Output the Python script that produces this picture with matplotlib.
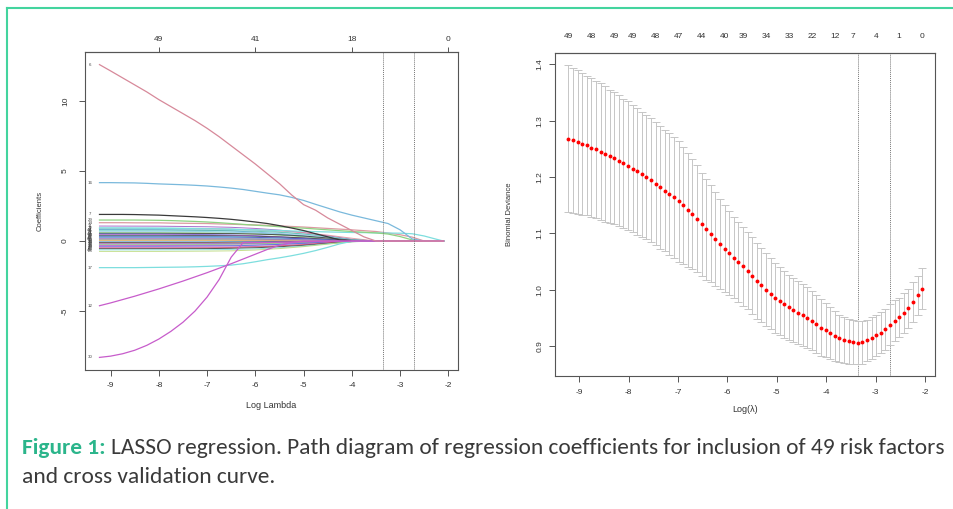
import numpy as np
import matplotlib
matplotlib.use("Agg")
import matplotlib.pyplot as plt
from matplotlib.lines import Line2D
from matplotlib import font_manager as fm

W, H = 954, 509
plt.rcParams['font.family'] = ['Liberation Sans', 'DejaVu Sans']
plt.rcParams['axes.unicode_minus'] = False

# ---------------- data: coefficient paths (left panel) ----------------
path_x_fine = [-9.23, -9.0, -8.75, -8.5, -8.25, -8.0, -7.75, -7.5, -7.25, -7.0,
               -6.75, -6.5, -6.25, -6.0, -5.75, -5.5, -5.25, -5.0, -4.75, -4.5,
               -4.25, -4.0, -3.75, -3.5, -3.25, -3.0, -2.75, -2.5, -2.25, -2.1]

coef_v6 = [12.6, 12.15, 11.65, 11.15, 10.65, 10.1, 9.6, 9.1, 8.6, 8.05,
           7.45, 6.8, 6.15, 5.5, 4.8, 4.1, 3.3, 2.6, 2.2, 1.65,
           1.2, 0.75, 0.3, 0, 0, 0, 0, 0, 0, 0]
coef_v16 = [4.17, 4.17, 4.16, 4.15, 4.12, 4.08, 4.05, 4.02, 3.98, 3.93,
            3.86, 3.78, 3.68, 3.55, 3.42, 3.3, 3.12, 2.9, 2.62, 2.35,
            2.08, 1.85, 1.65, 1.45, 1.25, 0.8, 0.15, 0, 0, 0]
coef_v7 = [1.9, 1.9, 1.9, 1.89, 1.87, 1.85, 1.81, 1.77, 1.73, 1.68,
           1.62, 1.55, 1.46, 1.36, 1.25, 1.1, 0.93, 0.75, 0.52, 0.3,
           0.08, 0, 0, 0, 0, 0, 0, 0, 0, 0]
coef_v29 = [1.5, 1.5, 1.5, 1.5, 1.49, 1.48, 1.46, 1.43, 1.4, 1.36,
            1.31, 1.25, 1.19, 1.13, 1.08, 1.02, 0.97, 0.92, 0.86, 0.8,
            0.74, 0.68, 0.63, 0.58, 0.5, 0.32, 0.08, 0, 0, 0]
coef_v14 = [1.31, 1.31, 1.31, 1.3, 1.3, 1.3, 1.28, 1.27, 1.26, 1.25,
            1.22, 1.2, 1.17, 1.15, 1.12, 1.08, 1.04, 1.0, 0.95, 0.9,
            0.85, 0.8, 0.74, 0.68, 0.57, 0.45, 0.28, 0, 0, 0]
coef_v9 = [0.92, 0.92, 0.92, 0.91, 0.91, 0.9, 0.9, 0.89, 0.88, 0.87,
           0.86, 0.84, 0.82, 0.8, 0.78, 0.75, 0.72, 0.7, 0.67, 0.65,
           0.63, 0.61, 0.6, 0.58, 0.57, 0.56, 0.52, 0.36, 0.13, 0]
coef_v17 = [-1.9, -1.9, -1.9, -1.9, -1.89, -1.88, -1.87, -1.86, -1.84, -1.81,
            -1.77, -1.72, -1.62, -1.48, -1.33, -1.2, -1.05, -0.88, -0.68, -0.45,
            -0.2, -0.02, 0, 0, 0, 0, 0, 0, 0, 0]
coef_v12 = [-4.62, -4.42, -4.18, -3.94, -3.68, -3.42, -3.14, -2.86, -2.56, -2.26,
            -1.94, -1.62, -1.28, -0.94, -0.6, -0.3, -0.1, 0, 0, 0,
            0, 0, 0, 0, 0, 0, 0, 0, 0, 0]
coef_v30 = [-8.31, -8.22, -8.05, -7.8, -7.45, -7.0, -6.45, -5.8, -5.0, -4.0,
            -2.75, -1.15, -0.1, -0.1, -0.1, -0.08, -0.07, -0.05, -0.04, -0.02,
            -0.01, 0, 0, 0, 0, 0, 0, 0, 0, 0]

major_paths = [coef_v14, coef_v9, coef_v29, coef_v7, coef_v17, coef_v16,
               coef_v12, coef_v30, coef_v6]
major_labels = ['14', '9', '29', '7', '17', '16', '12', '30', '6']
major_colors = ['#dc9aa2', '#7ddede', '#8ed282', '#3a3a3a', '#7ddede', '#7ab9dc',
                '#c75ccb', '#c75ccb', '#d7899a']

path_x_coarse = [-9.23, -8.0, -7.0, -6.5, -6.0, -5.5, -5.0, -4.5, -4.0, -3.5, -2.1]
cluster_paths = [
    [1.07, 1.06, 1.02, 0.98, 0.9, 0.78, 0.6, 0.38, 0.12, 0, 0],
    [0.95, 0.94, 0.9, 0.86, 0.78, 0.66, 0.5, 0.3, 0.08, 0, 0],
    [0.88, 0.88, 0.86, 0.84, 0.8, 0.72, 0.6, 0.42, 0.2, 0, 0],
    [0.82, 0.81, 0.77, 0.72, 0.64, 0.52, 0.36, 0.18, 0.02, 0, 0],
    [0.78, 0.78, 0.76, 0.74, 0.7, 0.62, 0.5, 0.32, 0.1, 0, 0],
    [0.72, 0.71, 0.68, 0.64, 0.58, 0.48, 0.34, 0.16, 0.02, 0, 0],
    [0.66, 0.66, 0.65, 0.63, 0.6, 0.54, 0.44, 0.28, 0.08, 0, 0],
    [0.6, 0.6, 0.58, 0.55, 0.5, 0.42, 0.3, 0.16, 0.03, 0, 0],
    [0.55, 0.55, 0.54, 0.53, 0.5, 0.45, 0.36, 0.22, 0.06, 0, 0],
    [0.5, 0.49, 0.46, 0.43, 0.38, 0.3, 0.2, 0.08, 0, 0, 0],
    [0.45, 0.45, 0.43, 0.41, 0.37, 0.3, 0.22, 0.12, 0.03, 0, 0],
    [0.4, 0.4, 0.39, 0.37, 0.34, 0.29, 0.22, 0.12, 0.02, 0, 0],
    [0.35, 0.35, 0.33, 0.31, 0.28, 0.22, 0.15, 0.07, 0, 0, 0],
    [0.3, 0.3, 0.29, 0.28, 0.26, 0.22, 0.16, 0.08, 0.01, 0, 0],
    [0.25, 0.25, 0.24, 0.22, 0.19, 0.15, 0.1, 0.04, 0, 0, 0],
    [0.2, 0.2, 0.19, 0.18, 0.16, 0.13, 0.09, 0.04, 0, 0, 0],
    [0.15, 0.15, 0.14, 0.13, 0.12, 0.1, 0.07, 0.03, 0, 0, 0],
    [0.1, 0.1, 0.1, 0.09, 0.08, 0.06, 0.04, 0.02, 0, 0, 0],
    [0.06, 0.06, 0.06, 0.05, 0.05, 0.04, 0.02, 0.01, 0, 0, 0],
    [0.03, 0.03, 0.03, 0.03, 0.02, 0.02, 0.01, 0, 0, 0, 0],
    [-0.05, -0.05, -0.05, -0.04, -0.04, -0.03, -0.02, -0.01, 0, 0, 0],
    [-0.1, -0.1, -0.1, -0.09, -0.08, -0.06, -0.04, -0.02, 0, 0, 0],
    [-0.16, -0.16, -0.15, -0.14, -0.12, -0.1, -0.07, -0.03, 0, 0, 0],
    [-0.21, -0.21, -0.2, -0.19, -0.17, -0.14, -0.1, -0.05, -0.01, 0, 0],
    [-0.26, -0.26, -0.25, -0.23, -0.2, -0.16, -0.11, -0.05, 0, 0, 0],
    [-0.32, -0.32, -0.31, -0.3, -0.28, -0.24, -0.18, -0.1, -0.02, 0, 0],
    [-0.38, -0.38, -0.36, -0.34, -0.3, -0.24, -0.16, -0.07, 0, 0, 0],
    [-0.44, -0.44, -0.43, -0.42, -0.39, -0.34, -0.26, -0.15, -0.04, 0, 0],
    [-0.5, -0.5, -0.48, -0.46, -0.42, -0.35, -0.25, -0.12, -0.02, 0, 0],
    [-0.55, -0.55, -0.54, -0.52, -0.48, -0.41, -0.31, -0.17, -0.04, 0, 0],
    [-0.63, -0.63, -0.62, -0.6, -0.56, -0.48, -0.36, -0.2, -0.05, 0, 0],
    [-0.74, -0.74, -0.72, -0.7, -0.64, -0.54, -0.4, -0.22, -0.05, 0, 0],
]
cluster_labels = ['31', '5', '2', '4', '43', '21', '37', '3', '1', '44', '22', '33', '27', '38',
                  '40', '8', '46', '19', '10', '15', '36', '25', '18', '39', '11', '13',
                  '20', '23', '26', '34', '45', '28']
cluster_colors = ['#9a55c4', '#7ddede', '#dc8f9c', '#5aa5e0', '#5bbcae', '#7ddede', '#9ccbe8',
                  '#8ed282', '#3a3a3a', '#4a78e0', '#c75ccb', '#444444', '#5cc4c4', '#5548c8',
                  '#5aa5e0', '#a8a8a8', '#9a55c4', '#8ed282', '#c75ccb', '#e6c85a', '#5aa5e0',
                  '#3a3a3a', '#dc8a99', '#7f4dc4', '#8ed282', '#c75ccb', '#4a78e0', '#c75ccb',
                  '#da5f76', '#3a3a3a', '#7ddede', '#bcd97a']

path_top_pos = [-8, -6, -4, -2]
path_top_labels = ['49', '41', '18', '0']

# ---------------- data: cross-validation curve (right panel) ----------------
log_lambda = np.linspace(-9.22, -2.06, 78)
cv_mean = [1.268, 1.265, 1.262, 1.259, 1.256, 1.252, 1.249, 1.245, 1.241, 1.237,
           1.233, 1.229, 1.224, 1.220, 1.215, 1.210, 1.205, 1.200, 1.194, 1.188,
           1.182, 1.176, 1.170, 1.164, 1.157, 1.150, 1.142, 1.134, 1.126, 1.116,
           1.107, 1.099, 1.090, 1.081, 1.073, 1.065, 1.057, 1.050, 1.042, 1.034,
           1.025, 1.016, 1.008, 1.000, 0.993, 0.986, 0.980, 0.974, 0.969, 0.964,
           0.959, 0.955, 0.950, 0.945, 0.939, 0.933, 0.928, 0.923, 0.918, 0.914,
           0.911, 0.909, 0.907, 0.906, 0.907, 0.910, 0.914, 0.919, 0.924, 0.930,
           0.938, 0.945, 0.951, 0.959, 0.967, 0.978, 0.990, 1.002]
cv_se = [0.130, 0.129, 0.127, 0.126, 0.124, 0.123, 0.122, 0.121, 0.120, 0.118,
         0.117, 0.116, 0.115, 0.114, 0.113, 0.112, 0.111, 0.110, 0.110, 0.109,
         0.109, 0.108, 0.108, 0.107, 0.107, 0.104, 0.101, 0.098, 0.095, 0.092,
         0.089, 0.086, 0.083, 0.080, 0.077, 0.074, 0.072, 0.071, 0.070, 0.069,
         0.068, 0.067, 0.066, 0.065, 0.063, 0.062, 0.061, 0.060, 0.058, 0.057,
         0.056, 0.055, 0.054, 0.052, 0.051, 0.050, 0.048, 0.046, 0.044, 0.042,
         0.041, 0.040, 0.039, 0.038, 0.038, 0.037, 0.037, 0.036, 0.036, 0.036,
         0.036, 0.036, 0.035, 0.035, 0.035, 0.035, 0.035, 0.036]
cv_top_idx = [0, 5, 10, 14, 19, 24, 29, 34, 38, 43, 48, 53, 58, 62, 67, 72, 77]
cv_top_labels = ['49', '48', '49', '49', '48', '47', '44', '40', '39', '34', '33',
                 '22', '12', '7', '4', '1', '0']

caption_bold = 'Figure 1:'
caption_line1 = 'LASSO regression. Path diagram of regression coefficients for inclusion of 49 risk factors'
caption_line2 = 'and cross validation curve.'

# ---------------- figure ----------------
fig = plt.figure(figsize=(W / 100, H / 100), dpi=100)
fig.patch.set_facecolor('white')


def fx(px):
    return px / W


def fy(py):
    return 1 - py / H


SPINE = '#555555'
TICKLAB = '#333333'

ax1 = fig.add_axes([fx(85), fy(370), (458 - 85) / W, (370 - 52) / H])
ax2 = fig.add_axes([fx(555), fy(376), (935 - 555) / W, (376 - 53) / H])

for ax in (ax1, ax2):
    for s in ax.spines.values():
        s.set_color(SPINE)
        s.set_linewidth(0.8)
    ax.tick_params(axis='both', colors=SPINE, labelcolor=TICKLAB, labelsize=6,
                   length=4.5, width=0.7, direction='out')

# ---- left: coefficient paths ----
for vals, col in zip(cluster_paths, cluster_colors):
    ax1.plot(path_x_coarse, vals, color=col, lw=0.7, alpha=0.85)
for vals, col in zip(major_paths, major_colors):
    ax1.plot(path_x_fine, vals, color=col, lw=0.9)

for vals, lab in zip(cluster_paths, cluster_labels):
    ax1.text(-9.43, vals[0], lab, fontsize=3.2, color='#444444', ha='center', va='center')
for vals, lab in zip(major_paths, major_labels):
    ax1.text(-9.43, vals[0], lab, fontsize=3.2, color='#444444', ha='center', va='center')

idx_min = int(np.argmin(cv_mean))
thr = cv_mean[idx_min] + cv_se[idx_min]
idx_1se = max(i for i, v in enumerate(cv_mean) if v <= thr)
for ax in (ax1, ax2):
    for i in (idx_min, idx_1se):
        ax.axvline(log_lambda[i], color='#777777', lw=0.7, ls=(0, (1, 1)))

ax1.set_xlim(-9.53, -1.80)
ax1.set_ylim(-9.21, 13.5)
ax1.set_xticks([-9, -8, -7, -6, -5, -4, -3, -2])
ax1.set_yticks([-5, 0, 5, 10])
ax1.set_yticklabels(['-5', '0', '5', '10'], rotation=90, va='center')
ax1.tick_params(axis='x', pad=4)
ax1.tick_params(axis='y', pad=7)

top1 = ax1.secondary_xaxis('top')
top1.set_xticks(path_top_pos)
top1.set_xticklabels(path_top_labels)
top1.tick_params(length=3.5, width=0.7, colors=SPINE, labelcolor=TICKLAB, labelsize=6, pad=3)
top1.spines['top'].set_color(SPINE)
top1.spines['top'].set_linewidth(0.8)

fig.text(fx(40), fy(211), 'Coefficients', rotation=90, fontsize=5.5, color=TICKLAB,
         ha='center', va='center')
fig.text(fx(271), fy(406), 'Log Lambda', fontsize=6.5, color=TICKLAB, ha='center', va='center')

# ---- right: CV curve ----
ax2.errorbar(log_lambda, cv_mean, yerr=cv_se, fmt='none', ecolor='#c6c6c6',
             elinewidth=0.7, capsize=3.0, capthick=0.7)
ax2.plot(log_lambda, cv_mean, 'o', color='#ff0000', ms=2.8, mec='none', zorder=5)

ax2.set_xlim(-9.49, -1.80)
ax2.set_ylim(0.847, 1.42)
ax2.set_xticks([-9, -8, -7, -6, -5, -4, -3, -2])
ax2.set_yticks([0.9, 1.0, 1.1, 1.2, 1.3, 1.4])
ax2.set_yticklabels(['0.9', '1.0', '1.1', '1.2', '1.3', '1.4'], rotation=90, va='center')
ax2.tick_params(axis='x', pad=5)
ax2.tick_params(axis='y', pad=4)

top2 = ax2.secondary_xaxis('top')
top2.set_xticks([log_lambda[i] for i in cv_top_idx])
top2.set_xticklabels(cv_top_labels)
top2.tick_params(length=0, colors=SPINE, labelcolor=TICKLAB, labelsize=6, pad=9)
top2.spines['top'].set_color(SPINE)
top2.spines['top'].set_linewidth(0.8)

fig.text(fx(510), fy(214), 'Binomial Deviance', rotation=90, fontsize=5.5, color=TICKLAB,
         ha='center', va='center')
fig.text(fx(745), fy(410), 'Log(λ)', fontsize=6.5, color=TICKLAB, ha='center', va='center')

# ---- frame lines ----
BORDER = '#43d49e'
fig.add_artist(Line2D([fx(7), 1.0], [fy(8), fy(8)], transform=fig.transFigure,
                      color=BORDER, lw=1.5))
fig.add_artist(Line2D([fx(7), fx(7)], [fy(8), 0.0], transform=fig.transFigure,
                      color=BORDER, lw=1.5))


# ---- caption ----
def has_font(name):
    try:
        fm.findfont(fm.FontProperties(family=name), fallback_to_default=False)
        return True
    except Exception:
        return False


cap_family = next((f for f in ['Carlito', 'Liberation Sans Narrow', 'Open Sans'] if has_font(f)),
                  'DejaVu Sans')
GREEN = '#2bb58b'
TXT = '#3a3a3a'
fs0 = 14
t_b = fig.text(fx(22), fy(454), caption_bold, fontsize=fs0, fontweight='bold', color=GREEN,
               family=cap_family, va='baseline')
t_r = fig.text(fx(100), fy(454), caption_line1, fontsize=fs0, color=TXT,
               family=cap_family, va='baseline')
t_2 = fig.text(fx(22), fy(483), caption_line2, fontsize=fs0, color=TXT,
               family=cap_family, va='baseline')
renderer = fig.canvas.get_renderer()
wb = t_b.get_window_extent(renderer).width
wr = t_r.get_window_extent(renderer).width
gap0 = fs0 * 0.25 * 100 / 72
scale = (951 - 22) / (wb + wr + gap0)
fs = fs0 * scale
for t in (t_b, t_r, t_2):
    t.set_fontsize(fs)
eb = t_b.get_window_extent(renderer)
t_r.set_x((eb.x1 + gap0 * scale) / W)

fig.savefig('out.png', dpi=100, facecolor='white')
